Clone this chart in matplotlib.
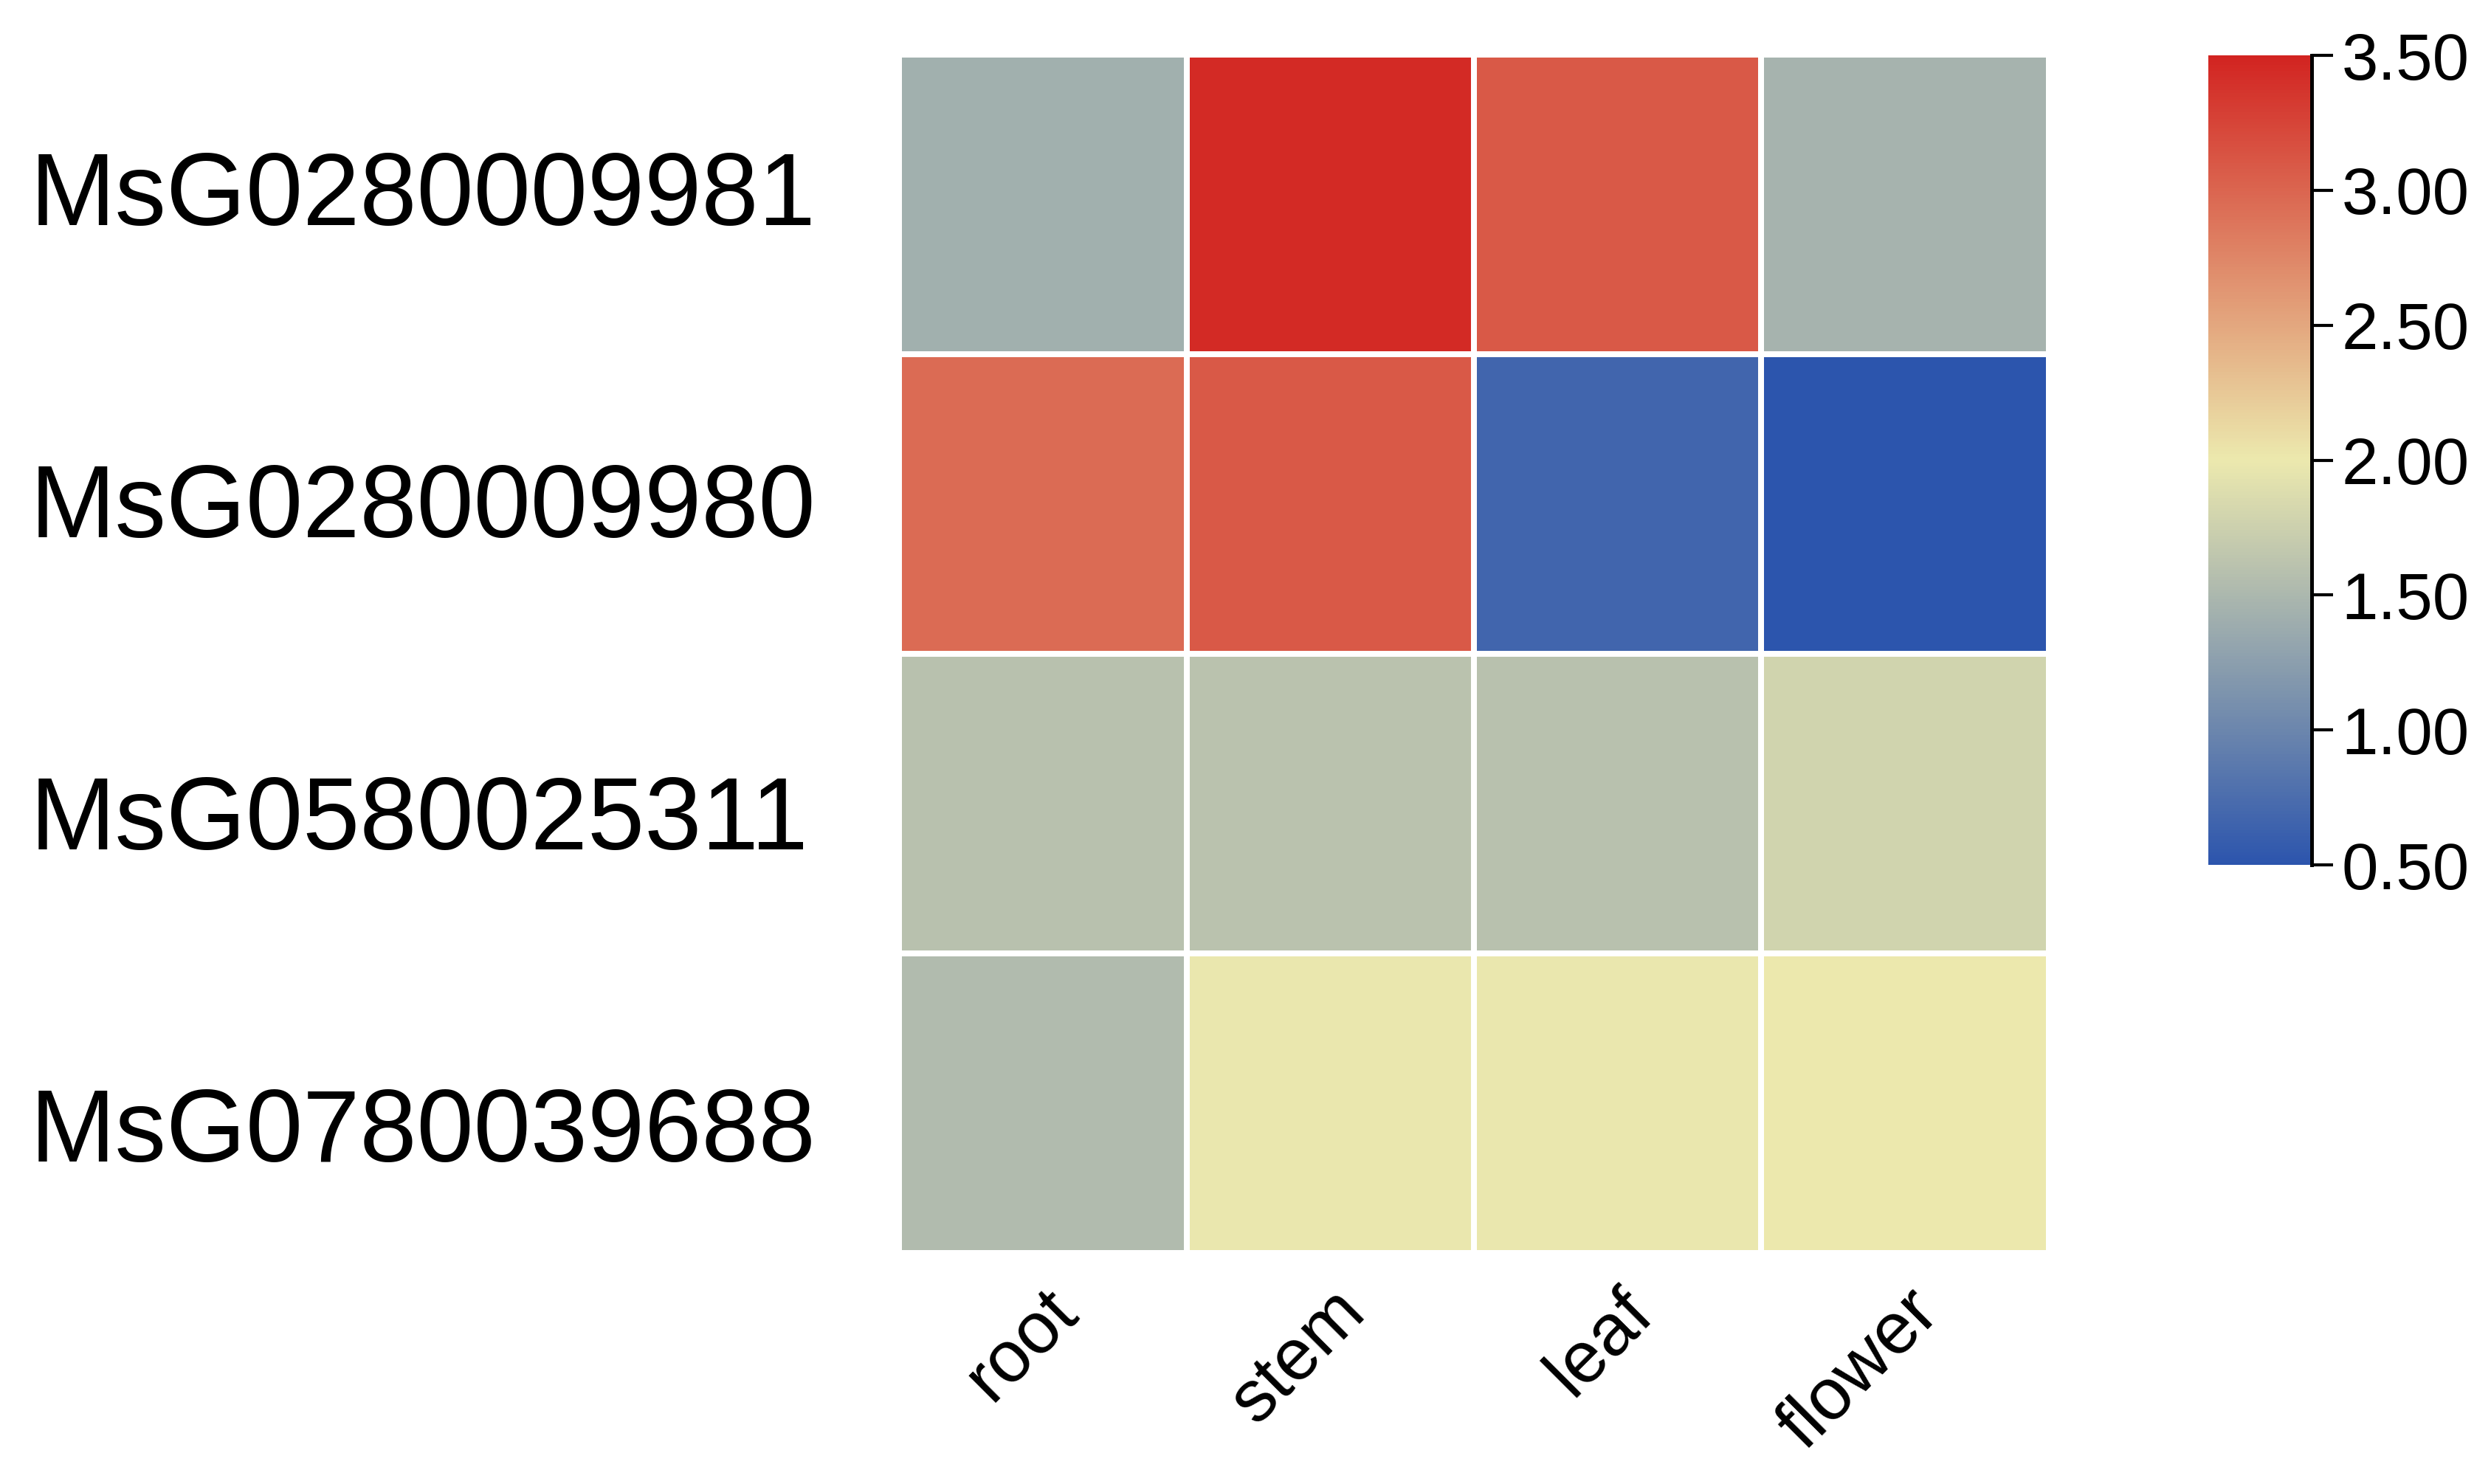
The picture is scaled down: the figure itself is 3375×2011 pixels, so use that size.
import numpy as np
import matplotlib
matplotlib.use('Agg')
import matplotlib.pyplot as plt
from matplotlib.colors import LinearSegmentedColormap
from matplotlib.ticker import FormatStrFormatter

genes = ['MsG0280009981', 'MsG0280009980', 'MsG0580025311', 'MsG0780039688']
tissues = ['root', 'stem', 'leaf', 'flower']

msg0280009981 = [1.42, 3.45, 3.10, 1.46]
msg0280009980 = [2.95, 3.10, 0.67, 0.50]
msg0580025311 = [1.60, 1.61, 1.59, 1.78]
msg0780039688 = [1.54, 1.98, 1.98, 2.00]

cbar_ticks = [0.5, 1.0, 1.5, 2.0, 2.5, 3.0, 3.5]

values = np.array([msg0280009981, msg0280009980, msg0580025311, msg0780039688])

plt.rcParams['font.family'] = ['Liberation Sans', 'DejaVu Sans']

cmap = LinearSegmentedColormap.from_list('bly', ['#2c55ad', '#ece9ae', '#d22421'])

fig = plt.figure(figsize=(33.75, 20.11), dpi=100)

# heatmap
ax = fig.add_axes([0.3609, 0.1557, 0.4616, 0.8075])
mesh = ax.pcolormesh(values, cmap=cmap, vmin=0.5, vmax=3.5,
                     edgecolors='white', linewidth=4.5)
ax.set_xlim(0, len(tissues))
ax.set_ylim(len(genes), 0)
for s in ax.spines.values():
    s.set_visible(False)
ax.set_xticks(np.arange(len(tissues)) + 0.5)
ax.set_xticklabels(tissues, rotation=45, ha='right', va='top',
                   rotation_mode='anchor', fontsize=71)
ax.tick_params(axis='x', length=0, pad=24)
ax.set_yticks([])

# gene labels on the left
lab_ax = fig.add_axes([0.0119, 0.1121, 0.3, 0.8414])
lab_ax.axis('off')
lab_ax.set_xlim(0, 1)
lab_ax.set_ylim(len(genes), 0)
for i, g in enumerate(genes):
    lab_ax.text(0, i + 0.5, g, fontsize=100, ha='left', va='baseline')

# colour bar
cax = fig.add_axes([0.8865, 0.4172, 0.0415, 0.5455])
cb = fig.colorbar(mesh, cax=cax, ticks=cbar_ticks)
cb.outline.set_visible(False)
cax.spines['right'].set_visible(True)
cax.spines['right'].set_linewidth(3.6)
cax.spines['right'].set_color('black')
cax.tick_params(length=21, width=3, pad=8, labelsize=64, direction='out')
cax.yaxis.set_major_formatter(FormatStrFormatter('%.2f'))

fig.savefig('out.png', dpi=100)
